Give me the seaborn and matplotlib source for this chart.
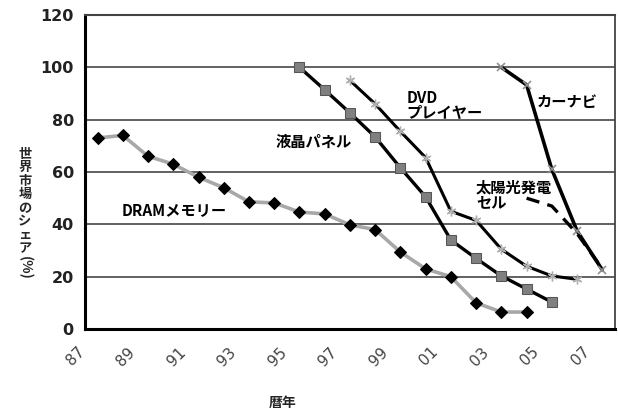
import numpy as np
import pandas as pd
import seaborn as sns
import matplotlib.pyplot as plt
import matplotlib.transforms as mtransforms

# Data (world market share %, by calendar year)
years = ['87', '88', '89', '90', '91', '92', '93', '94', '95', '96', '97',
         '98', '99', '00', '01', '02', '03', '04', '05', '06', '07']
dram = [73, 74, 66, 63, 58, 54, 48.6, 48.2, 44.7, 44, 39.8, 38, 29.4, 23, 20, 10, 6.5, 6.5,
        None, None, None]
lcd = [None] * 8 + [100, 91.4, 82.6, 73.4, 61.6, 50.5, 34, 27, 20.3, 15.3, 10.3, None, None]
dvd = [None] * 10 + [95, 86, 75.5, 65.5, 45, 41.5, 30.5, 24, 20.3, 19, None]
carnavi = [None] * 16 + [100, 93.3, 61, 37.5, 22.6]
solar = [None] * 17 + [50, 47, 36.5, 23]

x = np.arange(len(years))
df = pd.DataFrame({'x': x, 'DRAM': dram, 'LCD': lcd, 'DVD': dvd,
                   'CarNavi': carnavi, 'Solar': solar})

sns.set_style('white')
plt.rcParams['font.family'] = ['Noto Sans CJK JP', 'DejaVu Sans']

fig = plt.figure(figsize=(6.18, 4.16), dpi=100)
ax = fig.add_axes([0.1375, 0.209, 0.8575, 0.755])

# gridlines
for v in [20, 40, 60, 80, 100, 120]:
    ax.axhline(v, color='#555555', lw=1.3, zorder=0)

sns.lineplot(data=df, x='x', y='DRAM', ax=ax, color='#a8a8a8', lw=2.6,
             marker='D', markersize=6, markerfacecolor='black', markeredgecolor='black')
sns.lineplot(data=df, x='x', y='LCD', ax=ax, color='black', lw=2.4,
             marker='s', markersize=6.5, markerfacecolor='#808080', markeredgecolor='#555555')
sns.lineplot(data=df, x='x', y='DVD', ax=ax, color='black', lw=2.2,
             marker=(6, 2, 0), markersize=7, markeredgecolor='#b0b0b0', markeredgewidth=1)
sns.lineplot(data=df, x='x', y='CarNavi', ax=ax, color='black', lw=2.6,
             marker='x', markersize=6, markeredgecolor='#909090', markeredgewidth=1.2)
sns.lineplot(data=df, x='x', y='Solar', ax=ax, color='black', lw=2.4,
             linestyle=(0, (4, 2.5)))

ax.set_xlim(-0.5, len(years) - 0.5)
ax.set_ylim(0, 120)
ax.set_xlabel('')
ax.set_ylabel('')

ax.set_yticks(range(0, 121, 20))
ax.set_yticklabels([str(v) for v in range(0, 121, 20)], fontsize=11.5,
                   fontweight='bold', family=['DejaVu Sans'], color='#222222')
ax.set_xticks(x[::2])
ax.set_xticklabels(years[::2], rotation=45, ha='center', va='top', fontsize=11,
                   family=['DejaVu Sans'], color='#444444')
ax.set_xticks(np.arange(-0.5, len(years)), minor=True)
ax.tick_params(axis='x', which='major', length=0, pad=11)
ax.tick_params(axis='x', which='minor', direction='in', length=4, width=1.3, color='black')
ax.tick_params(axis='y', length=0, pad=8)
offset = mtransforms.ScaledTranslation(-22 / 100, 0, fig.dpi_scale_trans)
for lab in ax.get_xticklabels():
    lab.set_transform(lab.get_transform() + offset)

for side in ['left', 'bottom']:
    ax.spines[side].set_color('black')
    ax.spines[side].set_linewidth(2.2)
ax.spines['top'].set_color('#444444')
ax.spines['top'].set_linewidth(1.5)
ax.spines['right'].set_color('#444444')
ax.spines['right'].set_linewidth(1.3)

# series labels
kw = dict(fontsize=11, fontweight='bold', color='black')
ax.text(0.95, 43.5, 'DRAMメモリー', **kw)
ax.text(7.05, 69.5, '液晶パネル', **kw)
ax.text(12.25, 80.5, 'DVD\nプレイヤー', linespacing=0.95, **kw)
ax.text(17.4, 85, 'カーナビ', **kw)
ax.text(15.0, 46.5, '太陽光発電\nセル', linespacing=0.95, **kw)

# axis titles
fig.text(283 / 618, 1 - 403 / 416, '暦年', fontsize=10, fontweight='bold',
         ha='center', va='center')
fig.text(25 / 618, 1 - 201 / 416, '世\n界\n市\n場\nの\nシ\nェ\nア', fontsize=9.5,
         fontweight='bold', ha='center', va='center', linespacing=0.95)
fig.text(25 / 618, 1 - 268 / 416, '(%)', fontsize=10, fontweight='bold',
         ha='center', va='center', rotation=-90)

fig.savefig('out.png', dpi=100)
